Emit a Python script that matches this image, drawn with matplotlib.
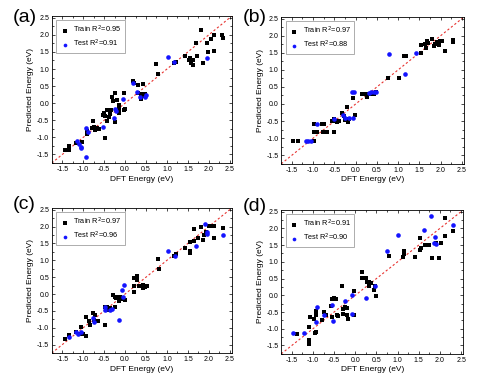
import matplotlib
matplotlib.use('Agg')
from matplotlib import pyplot as plt
from matplotlib.ticker import MultipleLocator

plt.rcParams['font.family'] = ['Liberation Sans', 'DejaVu Sans']
plt.rcParams['axes.unicode_minus'] = False

# panel (a)
train_x_a = [-1.44, -1.34, -1.34, -1.16, -1.02, -0.92, -0.90, -0.78, -0.75, -0.71, -0.66, -0.62,
             -0.76, -0.72, -0.49, -0.53, -0.51, -0.47, -0.43, -0.39, -0.37, -0.44, -0.33, -0.29,
             -0.31, -0.23, -0.25, -0.19, -0.15, -0.15, -0.15, -0.03, 0.01, -0.02, 0.19, 0.21,
             0.30, 0.44, 0.30, 0.37, 0.37, 0.44, 0.48, 0.75, 0.79, 1.17, 1.21, 1.43, 1.55, 1.57,
             1.63, 1.70, 1.63, 1.71, 1.81, 1.86, 1.95, 1.98, 2.05, 2.13, 2.13, 2.31, 2.33, 1.52]
train_y_a = [-1.36, -1.24, -1.38, -1.16, -1.14, -0.90, -0.82, -0.72, -0.70, -0.74, -0.72, -0.74,
             -0.51, -0.78, -1.01, -0.34, -0.28, -0.36, -0.51, -0.39, -0.31, -0.21, -0.20, 0.06,
             0.19, 0.29, -0.56, 0.08, -0.17, -0.28, -0.04, 0.30, -0.16, -0.21, 0.66, 0.59,
             0.54, 0.56, 0.30, 0.13, 0.27, 0.20, 0.27, 1.15, 0.86, 1.18, 1.22, 1.37, 1.32, 1.17,
             1.11, 1.75, 1.26, 1.39, 2.14, 1.18, 1.75, 1.49, 1.88, 2.00, 1.54, 2.00, 1.92, 1.26]
test_x_a = [-0.94, -0.89, -1.14, -1.10, -1.06, -1.05, -0.93, -0.53, -0.27, -0.23, -0.21, -0.05,
            0.19, 0.29, 0.35, 0.47, 0.51, 1.02, 1.18, 1.95]
test_y_a = [-0.72, -0.85, -1.11, -1.20, -1.27, -1.32, -1.56, -0.70, -0.44, -0.17, -0.24, 0.12,
            0.60, 0.34, 0.17, 0.17, 0.25, 1.34, 1.20, 1.31]

# panel (b)
train_x_b = [-1.47, -1.36, -0.97, -0.97, -0.91, -0.97, -0.79, -0.75, -0.77, -0.72, -0.67, -0.51,
             -0.55, -0.50, -0.47, -0.43, -0.40, -0.32, -0.28, -0.20, -0.24, -0.18, -0.16, -0.06,
             -0.01, 0.16, 0.22, 0.26, 0.31, 0.40, 0.44, 0.48, 0.76, 1.01, 1.13, 1.18, 1.54, 1.54,
             1.62, 1.65, 1.67, 1.71, 1.79, 1.83, 1.87, 1.91, 1.95, 1.98, 2.03, 2.09, 2.29, 2.29]
train_y_b = [-1.09, -1.09, -1.09, -0.82, -0.82, -0.58, -0.58, -0.58, -0.82, -0.82, -0.82, -0.82,
             -0.50, -0.43, -0.50, -0.53, -0.50, -0.26, -0.36, -0.09, -0.48, -0.52, -0.43, 0.18,
             -0.31, 0.28, 0.28, 0.20, 0.28, 0.28, 0.28, 0.36, 0.77, 0.77, 1.39, 1.39, 1.48, 1.73,
             1.75, 1.65, 1.83, 1.79, 1.89, 1.70, 1.75, 1.80, 1.73, 1.84, 1.84, 1.55, 1.80, 1.87]
test_x_b = [-1.17, -1.11, -1.05, -0.91, -0.51, -0.29, -0.24, -0.16, -0.06, -0.08, -0.04, 0.32,
            0.36, 0.44, 0.48, 0.78, 1.16, 1.41]
test_y_b = [-1.09, -1.09, -1.09, -0.58, -0.45, -0.31, -0.40, -0.40, -0.40, 0.36, 0.36, 0.31,
            0.36, 0.36, 0.36, 1.47, 0.87, 1.48]

# panel (c)
train_x_c = [-1.44, -1.34, -1.16, -1.10, -1.05, -1.01, -1.06, -0.93, -0.93, -0.87, -0.84, -0.76,
             -0.72, -0.75, -0.64, -0.49, -0.49, -0.43, -0.41, -0.36, -0.29, -0.25, -0.21, -0.17,
             -0.13, -0.15, -0.23, -0.07, 0.01, 0.21, 0.29, 0.29, 0.21, 0.33, 0.37, 0.44, 0.48,
             0.52, 0.22, 0.42, 0.47, 0.78, 0.82, 1.17, 1.21, 1.44, 1.54, 1.56, 1.56, 1.65, 1.65,
             1.74, 1.81, 1.85, 1.89, 1.93, 2.01, 2.06, 2.13, 2.13, 2.33]
train_y_c = [-1.34, -1.20, -1.12, -1.18, -1.18, -1.18, -0.97, -1.25, -0.68, -0.81, -0.91, -0.57,
             -0.61, -0.76, -0.81, -0.91, -0.39, -0.37, -0.47, -0.42, -0.03, -0.10, -0.12, -0.10,
             -0.08, -0.20, -0.37, -0.16, -0.18, 0.49, 0.52, 0.41, 0.23, 0.25, 0.25, 0.27, 0.25,
             0.25, 0.07, 0.18, 0.22, 1.04, 0.75, 1.14, 1.19, 1.36, 1.28, 1.21, 1.53, 1.92, 1.58,
             1.65, 1.99, 1.59, 1.75, 1.85, 2.01, 2.01, 2.01, 1.67, 1.96]
test_x_c = [-1.34, -1.16, -1.13, -1.06, -0.77, -0.75, -0.49, -0.47, -0.37, -0.31, -0.15, -0.07,
            -0.03, -0.06, 1.02, 1.20, 1.69, 1.91, 1.95, 1.95, 2.33]
test_y_c = [-1.28, -1.12, -1.17, -1.13, -0.71, -0.84, -0.39, -0.47, -0.47, -0.44, -0.78, 0.12,
            0.26, -0.10, 1.28, 1.14, 1.43, 2.09, 1.85, 1.77, 1.75]

# panel (d)
train_x_d = [-1.37, -1.10, -1.10, -1.09, -1.08, -0.97, -0.96, -0.92, -0.93, -0.93, -0.78, -0.74,
             -0.68, -0.54, -0.50, -0.46, -0.58, -0.56, -0.44, -0.40, -0.28, -0.24, -0.20, -0.28,
             -0.20, -0.18, -0.32, -0.04, -0.02, 0.16, 0.16, 0.25, 0.28, 0.32, 0.33, 0.36, 0.46,
             0.44, 0.49, 0.79, 1.15, 1.15, 1.12, 1.41, 1.53, 1.54, 1.55, 1.65, 1.71, 1.75, 1.81,
             1.91, 1.97, 2.03, 2.11, 2.11, 2.31]
train_y_d = [-1.17, -1.33, -1.46, -0.95, -0.65, -0.70, -1.14, -1.09, -0.48, -0.59, -0.75, -0.49,
             -0.59, -0.10, -0.07, -0.10, -0.31, -0.65, -0.59, -0.62, -0.40, -0.36, -0.38, -0.56,
             -0.59, -0.70, 0.27, 0.14, -0.59, 0.71, 0.51, 0.51, 0.39, 0.39, 0.29, 0.37, 0.29,
             0.17, -0.02, 1.18, 1.32, 1.24, 1.15, 1.15, 1.70, 1.36, 1.42, 1.49, 1.49, 1.49, 1.12,
             1.56, 1.10, 1.56, 1.78, 2.32, 1.91]
test_x_d = [-1.48, -1.20, -0.93, -0.90, -0.74, -0.54, -0.52, -0.24, -0.08, -0.08, 0.25, 0.46,
            0.75, 1.01, 1.63, 1.79, 1.89, 1.87, 1.91, 2.31]
test_y_d = [-1.13, -1.14, -0.80, -0.34, -0.60, -0.29, -0.77, -0.17, 0.0, -0.57, -0.07, 0.29,
            1.33, 1.80, 1.96, 2.38, 1.75, 1.56, 1.54, 2.10]

r2_train = [0.95, 0.97, 0.97, 0.91]
r2_test = [0.91, 0.88, 0.96, 0.90]
panel_labels = ['(a)', '(b)', '(c)', '(d)']

panels = [(train_x_a, train_y_a, test_x_a, test_y_a),
          (train_x_b, train_y_b, test_x_b, test_y_b),
          (train_x_c, train_y_c, test_x_c, test_y_c),
          (train_x_d, train_y_d, test_x_d, test_y_d)]

# axes boxes in figure fractions (left, bottom, width, height)
boxes = [(0.107, 0.583, 0.372, 0.376),
         (0.581, 0.581, 0.378, 0.376),
         (0.107, 0.097, 0.372, 0.371),
         (0.581, 0.095, 0.376, 0.368)]
label_pos = [(0.026, 0.955), (0.502, 0.955), (0.026, 0.478), (0.502, 0.472)]

fig = plt.figure(figsize=(4.84, 3.91), dpi=100)
lo, hi = -1.75, 2.55
ticks = [-1.5, -1.0, -0.5, 0.0, 0.5, 1.0, 1.5, 2.0, 2.5]

for i, (tx, ty, sx, sy) in enumerate(panels):
    ax = fig.add_axes(boxes[i])
    ax.plot([lo, hi], [lo, hi], color='#e8322f', linestyle=(0, (2, 2)), linewidth=0.8, zorder=1)
    ax.scatter(tx, ty, marker='s', s=9, color='black', linewidths=0,
               label='Train R$^2$=%.2f' % r2_train[i], zorder=2)
    ax.scatter(sx, sy, marker='o', s=11, color='#1414ff', linewidths=0,
               label='Test R$^2$=%.2f' % r2_test[i], zorder=3)
    ax.set_xlim(lo, hi)
    ax.set_ylim(lo, hi)
    ax.set_xticks(ticks)
    ax.set_yticks(ticks)
    ax.xaxis.set_minor_locator(MultipleLocator(0.25))
    ax.yaxis.set_minor_locator(MultipleLocator(0.25))
    ax.tick_params(which='both', direction='in', top=True, right=True, labelsize=5, width=0.5, pad=2)
    ax.tick_params(which='major', length=2.5)
    ax.tick_params(which='minor', length=1.5)
    for sp in ax.spines.values():
        sp.set_linewidth(0.6)
    ax.set_xlabel('DFT Energy (eV)', fontsize=6, labelpad=2)
    ax.set_ylabel('Predicted Energy (eV)', fontsize=6, labelpad=2)
    leg = ax.legend(loc='upper left', fontsize=5.3, frameon=True, fancybox=False,
                    handletextpad=0.4, handlelength=1.4, borderpad=0.5, labelspacing=0.35,
                    borderaxespad=0.6, markerscale=0.8)
    leg.get_frame().set_edgecolor('#888888')
    leg.get_frame().set_linewidth(0.6)
    fig.text(label_pos[i][0], label_pos[i][1], panel_labels[i], fontsize=14, va='center', ha='left')

plt.savefig('out.png', dpi=100)
